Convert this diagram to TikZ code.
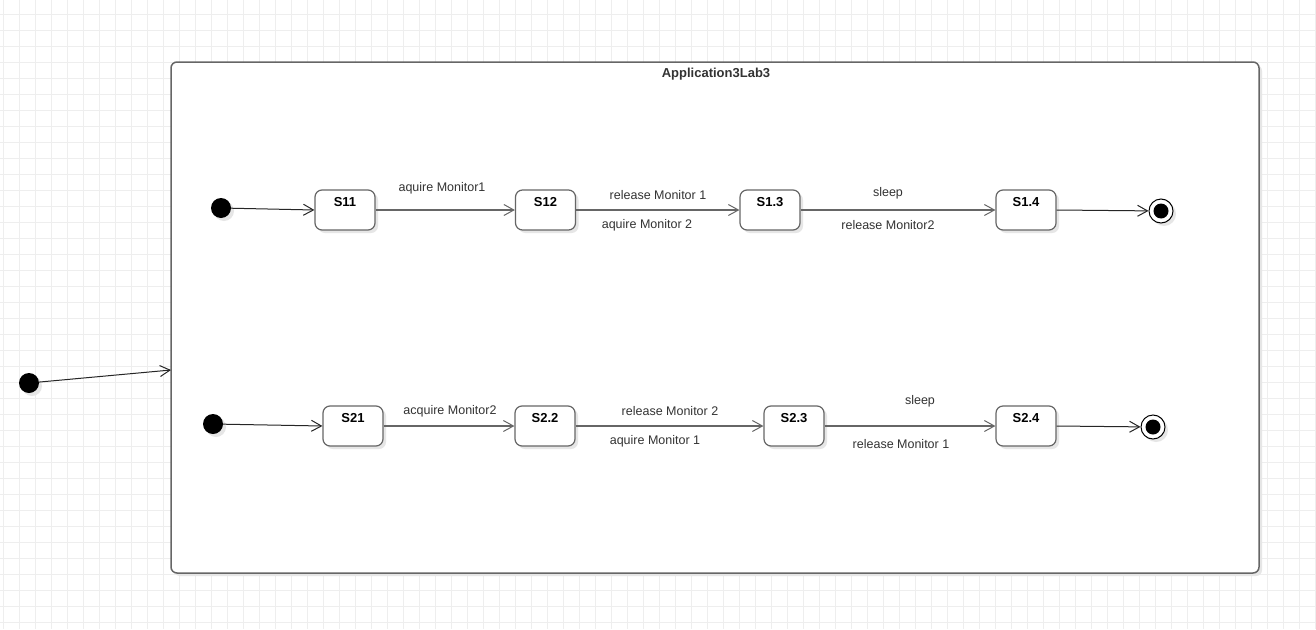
\documentclass[tikz,border=0pt]{standalone}
\usepackage{fontspec}
\setmainfont{Liberation Sans}
\usetikzlibrary{arrows.meta,shadows}
\definecolor{gridc}{HTML}{EEEEEE}
\definecolor{linec}{HTML}{666666}
\definecolor{txtc}{HTML}{333333}
\definecolor{shadc}{HTML}{E6E6E6}
\tikzset{
  shad/.style={drop shadow={shadow xshift=3pt,shadow yshift=-3pt,fill=shadc,opacity=1}},
  statebox/.style={draw=linec,line width=1.2pt,fill=white,rounded corners=7pt,minimum width=60pt,minimum height=40pt,inner sep=0pt,shad},
  initdot/.style={circle,fill=black,minimum size=20pt,inner sep=0pt,shad},
  finaldot/.style={circle,draw=black,line width=1pt,fill=white,minimum size=24pt,inner sep=0pt,shad,
    path picture={\fill[black] (path picture bounding box.center) circle (7.5pt);}},
  edgelbl/.style={text=txtc,font=\fontsize{12.5}{14}\selectfont,inner sep=0pt},
  trans/.style={draw=linec,line width=1.1pt,-{Straight Barb[length=10pt,width=11pt,line width=1pt]}},
  inittrans/.style={draw=black!85,line width=1pt,-{Straight Barb[length=10pt,width=11pt,line width=1pt]}},
}
\newcommand{\stlbl}[1]{\fontsize{13}{15}\selectfont\bfseries #1}
\begin{document}
\begin{tikzpicture}[x=1pt,y=-1pt]
\useasboundingbox (0,0) rectangle (1316,629);
\fill[white] (0,0) rectangle (1316,629);
\foreach \gx in {3,19,...,1315} \draw[gridc,line width=1pt] (\gx,0) -- (\gx,629);
\foreach \gy in {14,30,...,628} \draw[gridc,line width=1pt] (0,\gy) -- (1316,\gy);
% container
\node[draw=linec,line width=1.5pt,fill=white,rounded corners=6pt,minimum width=1088pt,minimum height=511pt,inner sep=0pt,shad] (cont) at (715,317.5) {};
\node[text=txtc,font=\fontsize{13}{15}\selectfont\bfseries,inner sep=0pt] (title) at (716,74.5) {Application3Lab3};
% outer initial
\node[initdot] (i0) at (29,383) {};
\coordinate (c0) at (171,370);
\draw[inittrans] (i0) -- (c0);
% row 1
\node[initdot] (i1) at (221,208) {};
\node[statebox,label={[anchor=center,yshift=-13pt,text=black]north:\stlbl{S11}}] (s11) at (345,210) {};
\node[statebox,label={[anchor=center,yshift=-13pt,text=black]north:\stlbl{S12}}] (s12) at (545.5,210) {};
\node[statebox,label={[anchor=center,yshift=-13pt,text=black]north:\stlbl{S1.3}}] (s13) at (770,210) {};
\node[statebox,label={[anchor=center,yshift=-13pt,text=black]north:\stlbl{S1.4}}] (s14) at (1026,210) {};
\node[finaldot] (f1) at (1161,211) {};
\draw[inittrans] (i1) -- (s11.west);
\draw[trans] (s11) -- (s12);
\draw[trans] (s12) -- (s13);
\draw[trans] (s13) -- (s14);
\draw[inittrans] (s14.east) -- (f1);
\node[edgelbl] (l11) at (442,188) {aquire Monitor1};
\node[edgelbl] (l12a) at (658,195) {release Monitor 1};
\node[edgelbl] (l12b) at (647,225) {aquire Monitor 2};
\node[edgelbl] (l13a) at (888,193) {sleep};
\node[edgelbl] (l13b) at (888,225) {release Monitor2};
% row 2
\node[initdot] (i2) at (213,424) {};
\node[statebox,label={[anchor=center,yshift=-13pt,text=black]north:\stlbl{S21}}] (s21) at (353,426) {};
\node[statebox,label={[anchor=center,yshift=-13pt,text=black]north:\stlbl{S2.2}}] (s22) at (545,426) {};
\node[statebox,label={[anchor=center,yshift=-13pt,text=black]north:\stlbl{S2.3}}] (s23) at (794,426) {};
\node[statebox,label={[anchor=center,yshift=-13pt,text=black]north:\stlbl{S2.4}}] (s24) at (1026,426) {};
\node[finaldot] (f2) at (1153,427) {};
\draw[inittrans] (i2) -- (s21.west);
\draw[trans] (s21) -- (s22);
\draw[trans] (s22) -- (s23);
\draw[trans] (s23) -- (s24);
\draw[inittrans] (s24.east) -- (f2);
\node[edgelbl] (l21) at (450,411) {acquire Monitor2};
\node[edgelbl] (l22a) at (670,411) {release Monitor 2};
\node[edgelbl] (l22b) at (655,441) {aquire Monitor 1};
\node[edgelbl] (l23a) at (920,401) {sleep};
\node[edgelbl] (l23b) at (901,444) {release Monitor 1};
\end{tikzpicture}
\end{document}
